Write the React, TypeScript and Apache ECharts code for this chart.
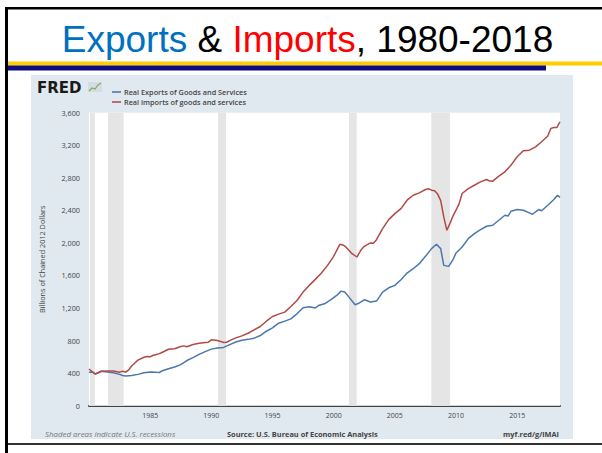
import React, { useEffect, useRef } from "react";
import * as echarts from "echarts";

const exportYears = [1980.0,1980.25,1980.5,1980.75,1981.0,1981.5,1982.0,1982.5,1982.75,1983.0,1983.5,1984.0,1984.5,1985.0,1985.5,1985.75,1986.0,1986.5,1987.0,1987.5,1988.0,1988.5,1989.0,1989.5,1990.0,1990.5,1991.0,1991.5,1992.0,1992.5,1993.0,1993.5,1994.0,1994.5,1995.0,1995.5,1996.0,1996.5,1997.0,1997.5,1998.0,1998.5,1998.75,1999.25,1999.75,2000.25,2000.6,2000.9,2001.25,2001.75,2002.0,2002.5,2002.75,2003.0,2003.5,2004.0,2004.5,2005.0,2005.5,2006.0,2006.5,2007.0,2007.5,2008.0,2008.4,2008.75,2009.0,2009.4,2009.75,2010.0,2010.5,2011.0,2011.5,2012.0,2012.5,2013.0,2013.5,2014.0,2014.25,2014.5,2015.0,2015.5,2016.0,2016.25,2016.75,2017.0,2017.5,2018.0,2018.3,2018.5];
const exportValues = [410,415,390,405,423,415,405,385,372,365,370,385,405,415,410,408,430,455,475,505,555,590,630,665,695,708,716,750,782,805,815,830,862,915,956,1014,1039,1067,1129,1203,1215,1200,1230,1252,1301,1355,1408,1396,1334,1240,1255,1301,1290,1273,1285,1396,1449,1478,1548,1630,1683,1745,1835,1930,1983,1930,1724,1712,1794,1876,1950,2053,2114,2164,2205,2217,2279,2340,2330,2390,2410,2402,2369,2352,2410,2395,2463,2533,2586,2560];

const importYears = [1980.0,1980.25,1980.5,1980.75,1981.0,1981.5,1982.0,1982.5,1982.75,1983.0,1983.25,1983.5,1983.75,1984.0,1984.5,1984.75,1985.0,1985.25,1985.5,1985.75,1986.0,1986.5,1987.0,1987.5,1987.75,1988.0,1988.5,1989.0,1989.5,1989.75,1990.0,1990.5,1990.75,1991.0,1991.25,1991.5,1992.0,1992.5,1993.0,1993.5,1994.0,1994.5,1995.0,1995.5,1996.0,1996.5,1997.0,1997.5,1998.0,1998.5,1999.0,1999.5,2000.0,2000.5,2000.75,2001.0,2001.5,2001.9,2002.25,2002.5,2003.0,2003.25,2003.5,2004.0,2004.5,2005.0,2005.5,2006.0,2006.5,2007.0,2007.5,2007.75,2008.0,2008.25,2008.5,2008.75,2009.0,2009.25,2009.5,2009.75,2010.0,2010.25,2010.5,2011.0,2011.5,2012.0,2012.5,2012.75,2013.0,2013.5,2014.0,2014.5,2015.0,2015.5,2016.0,2016.5,2017.0,2017.5,2017.75,2018.0,2018.25,2018.5];
const importValues = [451,420,390,405,423,425,425,412,425,412,440,490,525,560,595,605,600,620,628,640,657,694,700,727,735,725,751,768,776,780,809,800,790,776,780,800,833,858,890,932,973,1038,1096,1125,1150,1219,1293,1396,1478,1552,1630,1724,1835,1983,1975,1950,1868,1827,1917,1958,2000,1995,2040,2176,2286,2360,2422,2525,2586,2615,2656,2665,2648,2640,2600,2520,2320,2155,2237,2330,2402,2480,2607,2668,2709,2750,2779,2760,2759,2820,2873,2956,3058,3132,3140,3181,3243,3313,3407,3419,3419,3489];

const recessionStarts = [1980.08, 1981.55, 1990.55, 2001.25, 2007.98];
const recessionEnds = [1980.48, 1982.83, 1991.2, 2001.88, 2009.5];

const seriesNames = ["Real Exports of Goods and Services", "Real imports of goods and services"];
const yAxisName = "Billions of Chained 2012 Dollars";

export default function App() {
  const ref = useRef<HTMLDivElement>(null);
  useEffect(() => {
    const chart = echarts.init(ref.current!, null, { renderer: "svg" });
    const fredFont = "'Open Sans', Lato, sans-serif";
    chart.setOption({
      animation: false,
      backgroundColor: "#ffffff",
      grid: {
        left: 89,
        right: 42,
        top: 112.7,
        bottom: 47.3,
        show: true,
        backgroundColor: "#ffffff",
        borderWidth: 0,
        z: 1,
      },
      legend: {
        orient: "vertical",
        left: 107,
        top: 83,
        icon: "rect",
        itemWidth: 9,
        itemHeight: 1.5,
        itemGap: 2,
        data: seriesNames,
        textStyle: { fontSize: 7.3, lineHeight: 8, color: "#444", fontWeight: 600, fontFamily: fredFont, padding: [0, 0, 0, -2] },
      },
      xAxis: {
        type: "value",
        min: 1980,
        max: 2018.5,
        interval: 5,
        axisLine: { show: true, lineStyle: { color: "#444", width: 2 } },
        axisTick: { show: false },
        splitLine: { show: false },
        axisLabel: {
          showMinLabel: false,
          showMaxLabel: false,
          fontSize: 7,
          color: "#444",
          margin: 6,
          fontFamily: fredFont,
          formatter: (v: number) => String(v),
        },
      },
      yAxis: {
        type: "value",
        min: 0,
        max: 3600,
        interval: 400,
        name: yAxisName,
        nameLocation: "middle",
        nameRotate: 90,
        nameGap: 44,
        nameTextStyle: { fontSize: 7.3, color: "#444", fontFamily: fredFont },
        axisLine: { show: false },
        axisTick: { show: false },
        splitLine: { lineStyle: { color: "#e9e9e9", width: 1 } },
        axisLabel: {
          fontSize: 7.3,
          color: "#444",
          margin: 9,
          fontFamily: fredFont,
          formatter: (v: number) => v.toLocaleString("en-US"),
        },
      },
      series: [
        {
          name: "recessions",
          type: "line",
          data: [],
          z: 1,
          silent: true,
          markArea: {
            silent: true,
            itemStyle: { color: "#e5e5e5" },
            data: recessionStarts.map((s, i) => [{ xAxis: s }, { xAxis: recessionEnds[i] }]),
          },
        },
        {
          name: seriesNames[0],
          type: "line",
          z: 3,
          showSymbol: false,
          color: "#4572a7",
          lineStyle: { width: 1.5, color: "#4a77ad" },
          data: exportYears.map((x, i) => [x, exportValues[i]]),
        },
        {
          name: seriesNames[1],
          type: "line",
          z: 3,
          showSymbol: false,
          color: "#aa4643",
          lineStyle: { width: 1.5, color: "#b04a47" },
          data: importYears.map((x, i) => [x, importValues[i]]),
        },
      ],
      graphic: [
        { type: "rect", z: -10, shape: { x: 31, y: 75, width: 542, height: 364 }, style: { fill: "#e1e9f0" } },
        { type: "rect", z: 10, shape: { x: 5, y: 7, width: 597, height: 2.5 }, style: { fill: "#000" } },
        { type: "rect", z: 10, shape: { x: 5, y: 7, width: 3, height: 446 }, style: { fill: "#000" } },
        { type: "rect", z: 10, shape: { x: 8, y: 443, width: 594, height: 2 }, style: { fill: "#333" } },
        { type: "rect", z: 10, shape: { x: 8, y: 61.5, width: 594, height: 4 }, style: { fill: "#ffcc00" } },
        { type: "rect", z: 11, shape: { x: 8, y: 65.5, width: 538, height: 5 }, style: { fill: "#0c0c7c" } },
        {
          type: "text",
          z: 10,
          x: 307.5,
          y: 39,
          style: {
            text: "{b|Exports}{k| & }{r|Imports}{k|, 1980-2018}",
            align: "center",
            verticalAlign: "middle",
            rich: {
              b: { fontSize: 37, fontFamily: "'Liberation Sans', Arial, sans-serif", fill: "#0070c0" },
              k: { fontSize: 37, fontFamily: "'Liberation Sans', Arial, sans-serif", fill: "#000" },
              r: { fontSize: 37, fontFamily: "'Liberation Sans', Arial, sans-serif", fill: "#ff0000" },
            },
          },
        },
        {
          type: "text",
          z: 10,
          x: 37,
          y: 88,
          style: { text: "FRED", fontSize: 15, fontWeight: 900, fontFamily: "'DejaVu Sans', sans-serif", fill: "#1a1a1a", verticalAlign: "middle" },
        },
        { type: "rect", z: 10, shape: { x: 88, y: 82, width: 14, height: 10 }, style: { fill: "#d4dde6" } },
        {
          type: "polyline",
          z: 11,
          shape: { points: [[89, 91], [92, 88], [95, 89], [98, 85], [101, 83]] },
          style: { stroke: "#7fae5a", lineWidth: 1.2, fill: "none" },
        },
        {
          type: "text",
          z: 10,
          x: 45,
          y: 434,
          style: { text: "Shaded areas indicate U.S. recessions", fontSize: 7.9, fontStyle: "italic", fontFamily: fredFont, fill: "#777", verticalAlign: "middle" },
        },
        {
          type: "text",
          z: 10,
          x: 227,
          y: 434,
          style: { text: "Source: U.S. Bureau of Economic Analysis", fontSize: 7.4, fontWeight: "bold", fontFamily: fredFont, fill: "#444", verticalAlign: "middle" },
        },
        {
          type: "text",
          z: 10,
          x: 559,
          y: 434,
          style: { text: "myf.red/g/lMAI", fontSize: 7.4, fontWeight: "bold", fontFamily: fredFont, fill: "#444", align: "right", verticalAlign: "middle" },
        },
      ],
    });
    return () => chart.dispose();
  }, []);
  return <div ref={ref} style={{ position: "absolute", left: 0, top: 0, width: 602, height: 453 }} />;
}
